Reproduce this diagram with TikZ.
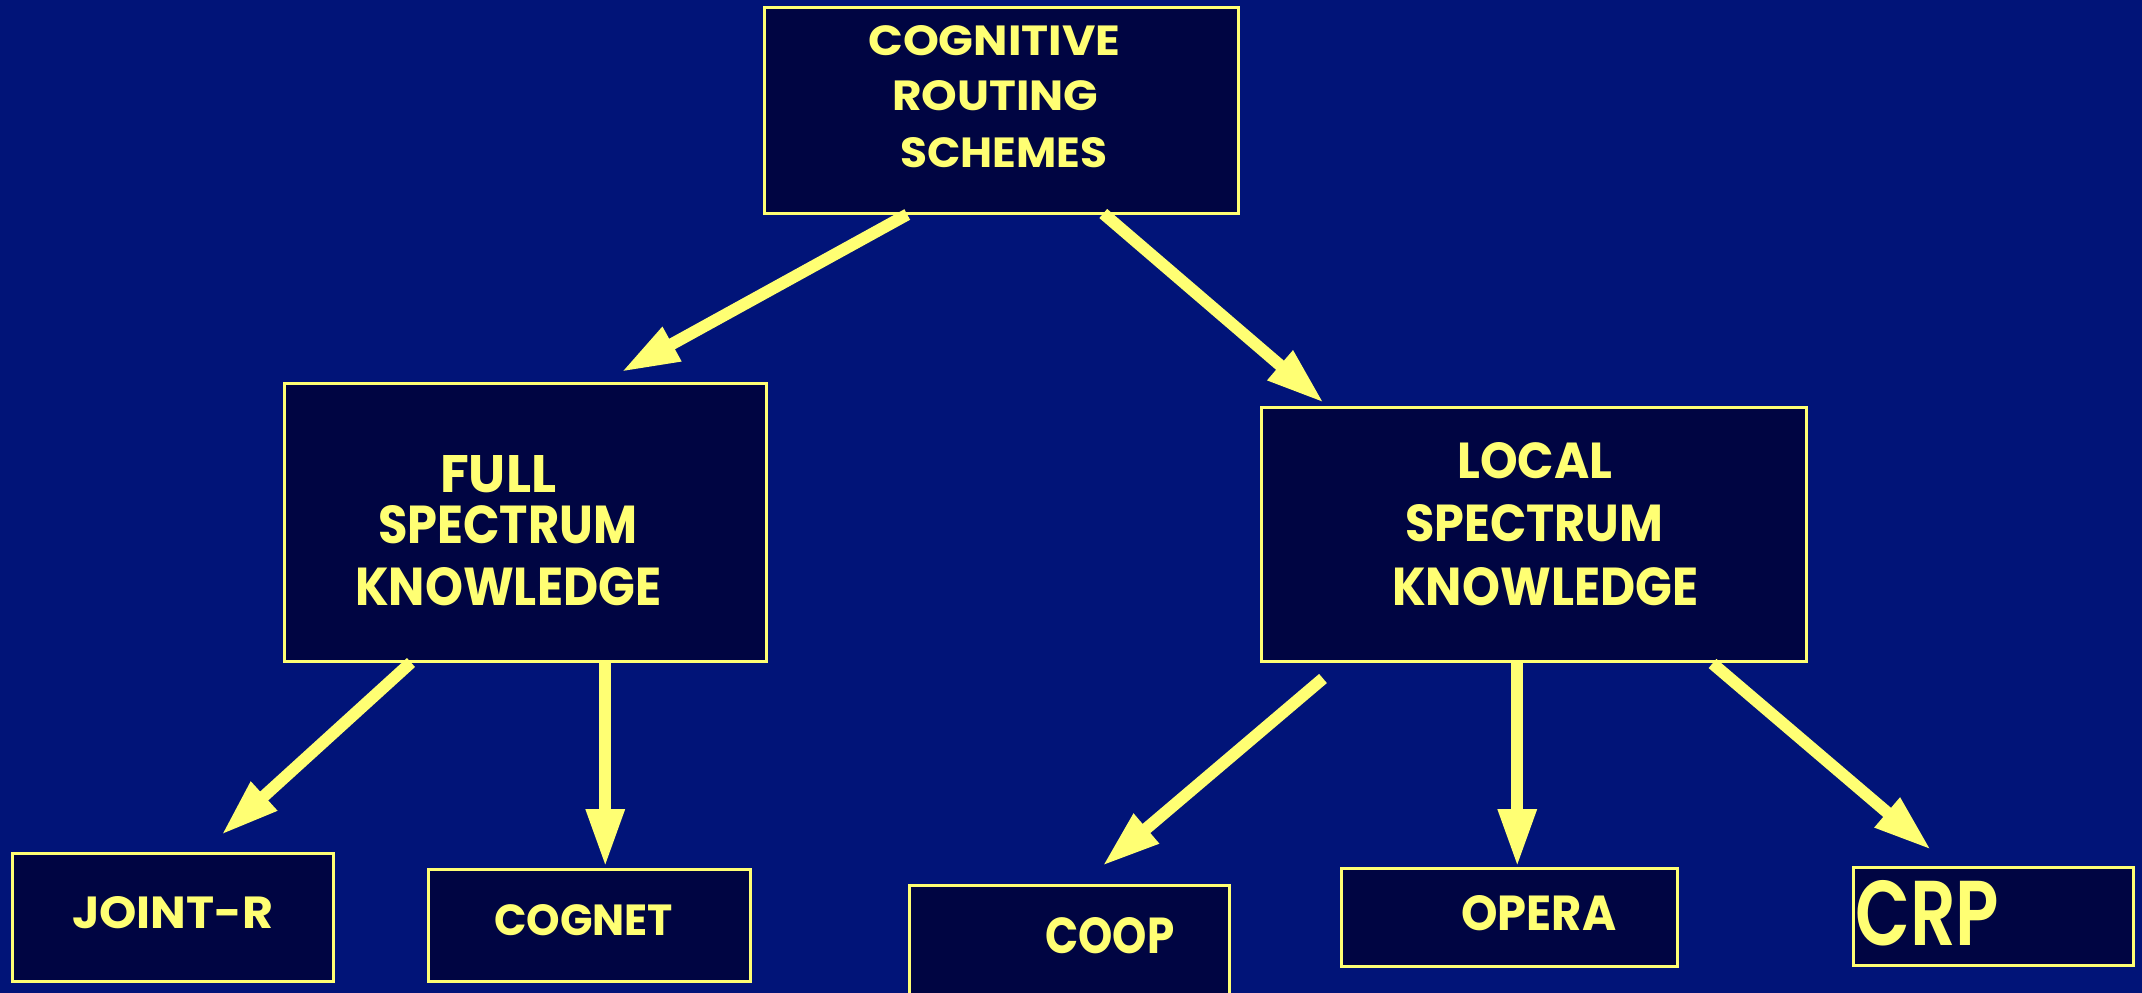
\documentclass[tikz,border=0pt]{standalone}
\usepackage{fontspec}
\setmainfont{Poppins}
\newfontfamily\semibold{Poppins SemiBold}
\usetikzlibrary{arrows.meta,calc}

\definecolor{bgblue}{RGB}{1,20,120}
\definecolor{boxnavy}{RGB}{0,5,66}
\definecolor{hiyellow}{RGB}{255,255,115}

% one line of label text, stretched to a given width and cap height
\newcommand\fitline[3]{\resizebox{#1pt}{#2pt}{#3}}

\tikzset{
  box/.style={draw=hiyellow, line width=2.5pt, fill=boxnavy, inner sep=0pt,
              anchor=north west},
  txt/.style={anchor=base west, inner sep=0pt, text=hiyellow, font=\bfseries},
  arr/.style={draw=hiyellow, line width=12pt,
              -{Triangle[length=58pt,width=36pt]}}
}

\begin{document}
\begin{tikzpicture}[x=1pt,y=-1pt]
  \fill[bgblue] (0,0) rectangle (2142,993);
  \useasboundingbox (0,0) rectangle (2142,993);

  % boxes
  \node[box, minimum width=474pt, minimum height=206pt] (top)    at (763,6)    {};
  \node[box, minimum width=482pt, minimum height=278pt] (full)   at (283,382)  {};
  \node[box, minimum width=545pt, minimum height=254pt] (local)  at (1260,406) {};
  \node[box, minimum width=321pt, minimum height=128pt] (joint)  at (11,852)   {};
  \node[box, minimum width=322pt, minimum height=112pt] (cognet) at (427,868)  {};
  \node[box, minimum width=320pt, minimum height=140pt] (coop)   at (908,884)  {};
  \node[box, minimum width=336pt, minimum height=98pt]  (opera)  at (1340,867) {};
  \node[box, minimum width=280pt, minimum height=98pt]  (crp)    at (1852,866) {};

  % labels
  \node[txt] (topa) at (868,55)  {\fitline{252}{30}{COGNITIVE}};
  \node[txt] (topb) at (892,110) {\fitline{206}{30}{ROUTING}};
  \node[txt] (topc) at (900,167) {\fitline{207}{30}{SCHEMES}};

  \node[txt] (fulla) at (440,492) {\fitline{116}{37}{FULL}};
  \node[txt] (fullb) at (378,543) {\fitline{259}{38}{SPECTRUM}};
  \node[txt] (fullc) at (355,605) {\fitline{306}{38}{KNOWLEDGE}};

  \node[txt] (loca) at (1457,478) {\fitline{155}{36}{LOCAL}};
  \node[txt] (locb) at (1405,541) {\fitline{258}{37}{SPECTRUM}};
  \node[txt] (locc) at (1392,605) {\fitline{306}{38}{KNOWLEDGE}};

  \node[txt] (jointt)  at (72,928)   {\fitline{201}{32}{JOINT-R}};
  \node[txt] (cognett) at (494,935)  {\fitline{179}{31}{COGNET}};
  \node[txt] (coopt)   at (1045,953) {\fitline{129}{36}{COOP}};
  \node[txt] (operat)  at (1461,930) {\fitline{155}{35}{OPERA}};
  \node[txt, font=\semibold] (crpt) at (1855,945) {\fitline{144}{65}{CRP}};

  % connectors
  \draw[arr] ([shift={(-94,0)}]top.south)   -- ([shift={(96,-10)}]full.north);
  \draw[arr] ([shift={(102,-1)}]top.south)  -- ([shift={(64,-3)}]local.north west);
  \draw[arr] ([shift={(128,0)}]full.south west) -- ([shift={(48.5,-17)}]joint.north);
  \draw[arr] ([shift={(80,0)}]full.south)   -- ([shift={(16,-1)}]cognet.north);
  \draw[arr] ([shift={(63,16)}]local.south west) -- ([shift={(33,-18)}]coop.north);
  \draw[arr] ([shift={(-16.5,0)}]local.south) -- ([shift={(8,0)}]opera.north);
  \draw[arr] ([shift={(-95,1)}]local.south east) -- ([shift={(-62,-16)}]crp.north);
\end{tikzpicture}
\end{document}
